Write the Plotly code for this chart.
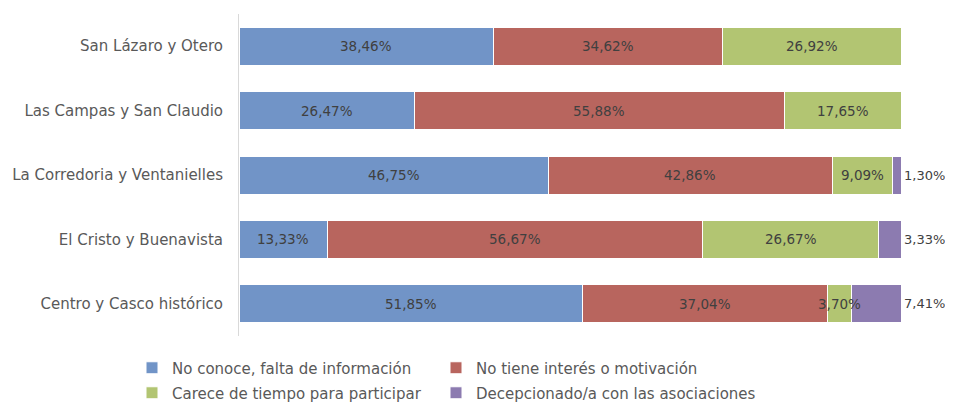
import plotly.graph_objects as go

barrios = ["San Lázaro y Otero", "Las Campas y San Claudio", "La Corredoria y Ventanielles",
           "El Cristo y Buenavista", "Centro y Casco histórico"]

no_conoce = [38.46, 26.47, 46.75, 13.33, 51.85]
no_interes = [34.62, 55.88, 42.86, 56.67, 37.04]
sin_tiempo = [26.92, 17.65, 9.09, 26.67, 3.70]
decepcionado = [0, 0, 1.30, 3.33, 7.41]

series = [
    ("No conoce, falta de información", no_conoce, "#7194C7"),
    ("No tiene interés o motivación", no_interes, "#B8655E"),
    ("Carece de tiempo para participar", sin_tiempo, "#B2C572"),
    ("Decepcionado/a con las asociaciones", decepcionado, "#8C7BB0"),
]

FONT = "DejaVu Sans"
label_font = dict(color="#404040", size=13.5, family=FONT)

# the page adds an 8px body margin, so the figure is a bit smaller
W, H = 945, 394
# legend slots (text start in screen px, row centre in screen px)
legend_slots = [(172, 368), (476, 368), (172, 393), (476, 393)]


def fmt(v):
    return "" if v == 0 else f"{v:.2f}".replace(".", ",") + "%"


fig = go.Figure()
legends = {}
for k, (name, vals, color) in enumerate(series):
    lname = "legend" if k == 0 else f"legend{k + 1}"
    fig.add_trace(go.Bar(
        y=barrios, x=vals, name=name, orientation="h", legend=lname, showlegend=True,
        marker=dict(color=color, line=dict(color="white", width=1)),
    ))
    tx, ty = legend_slots[k]
    legends[lname] = dict(orientation="h", xref="container", yref="container",
                          x=(tx - 40 - 8) / W, y=1 - (ty - 8) / H,
                          xanchor="left", yanchor="middle", itemwidth=30,
                          font=dict(size=15, color="#595959", family=FONT))

# value labels as annotations so they stay on top of the next segment
for j, cat in enumerate(barrios):
    start = 0
    for i, (name, vals, color) in enumerate(series):
        v = vals[j]
        if v:
            if i == len(series) - 1:
                # purple values go to the right of the bar
                fig.add_annotation(x=start + v, y=cat, text=fmt(v), showarrow=False,
                                   xanchor="left", xshift=1,
                                   font=dict(label_font, size=13))
            else:
                fig.add_annotation(x=start + v / 2, y=cat, text=fmt(v), showarrow=False,
                                   font=label_font)
        start += v

fig.update_layout(
    barmode="stack",
    bargap=0.41,
    width=W, height=H,
    showlegend=True,
    margin=dict(l=231, r=52, t=6, b=66),
    paper_bgcolor="white", plot_bgcolor="white",
    font=dict(family=FONT, color="#595959", size=14),
    **legends,
)
fig.update_xaxes(range=[0, 100], showgrid=False, showticklabels=False, zeroline=False,
                 automargin=False)
fig.update_yaxes(autorange="reversed", showline=True, linecolor="#D9D9D9", linewidth=1,
                 ticks="", ticklabelstandoff=12, automargin=False,
                 tickfont=dict(size=15, color="#595959", family=FONT))

fig.write_html("out.html")
